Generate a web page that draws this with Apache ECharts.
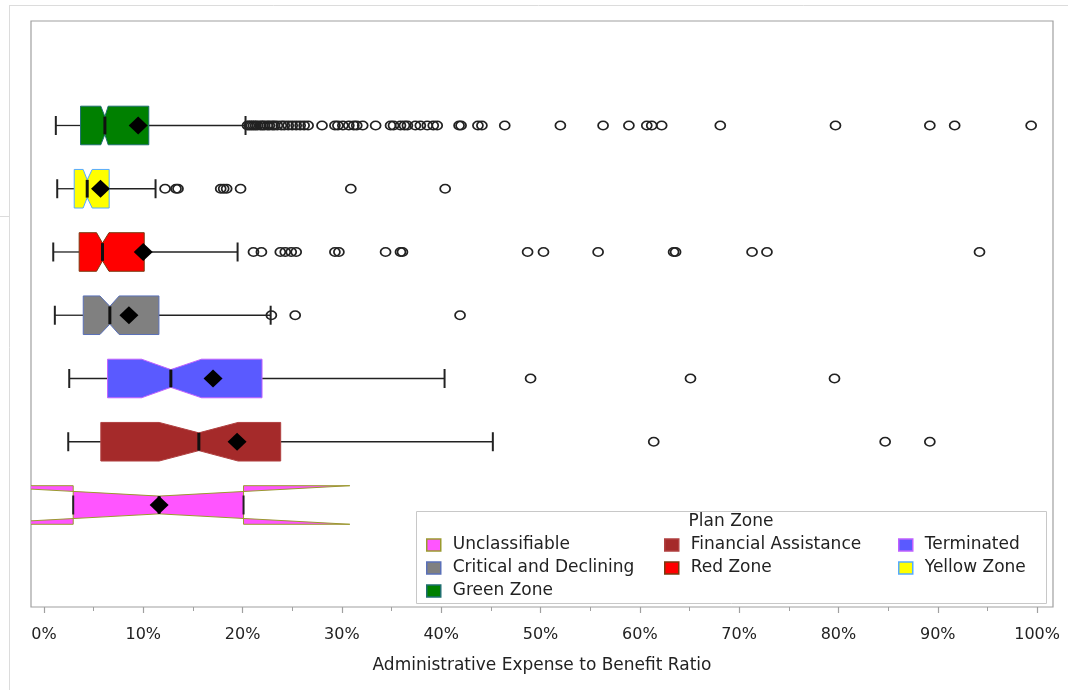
<!DOCTYPE html>
<html>
<head>
<meta charset="utf-8">
<script src="https://cdn.jsdelivr.net/npm/echarts@6/dist/echarts.min.js"></script>
<style>
html,body{margin:0;padding:0;background:#fff;}
#chart{width:1068px;height:690px;}
</style>
</head>
<body>
<div id="chart"></div>
<script>
// ---- data (percent values, category index 0 = bottom row) ----
const categories = ['Unclassifiable','Financial Assistance','Terminated','Critical and Declining','Red Zone','Yellow Zone','Green Zone'];
const whiskerLow  = [2.95, 2.45, 2.55, 1.10, 0.94, 1.34, 1.20];
const q1          = [2.95, 5.73, 6.41, 3.96, 3.55, 3.05, 3.69];
const notchLow    = [-7.6, 11.6, 9.83, 5.64, 5.30, 3.95, 5.73];
const median      = [11.6, 15.6, 12.78, 6.64, 5.90, 4.36, 6.14];
const notchHigh   = [30.8, 19.55, 15.87, 7.58, 6.55, 4.86, 6.47];
const q3          = [20.1, 23.84, 21.96, 11.58, 10.10, 6.57, 10.56];
const whiskerHigh = [20.1, 45.2, 40.34, 22.83, 19.5, 11.24, 20.3];
const means       = [11.6, 19.45, 17.03, 8.56, 10.0, 5.7, 9.49];

const outliersUnclassifiable = [];
const outliersFinancial = [61.4, 84.7, 89.2];
const outliersTerminated = [49.0, 65.1, 79.6];
const outliersCritical = [22.9, 25.3, 41.9];
const outliersRed = [21.1, 21.9, 23.8, 24.3, 24.9, 25.4, 29.3, 29.7, 34.4, 35.9, 36.1, 48.7, 50.3, 55.8, 63.4, 63.6, 71.3, 72.8, 94.2];
const outliersYellow = [12.2, 13.3, 13.5, 17.8, 18.1, 18.4, 19.8, 30.9, 40.4];
const outliersGreen = [20.5, 20.7, 20.9, 21.1, 21.3, 21.5, 21.8, 22.0, 22.2, 22.5, 22.7, 23.0, 23.2, 23.5, 23.9, 24.2, 24.6, 25.0, 25.4, 25.8, 26.2, 26.6,
  28.0, 29.3, 29.6, 30.1, 30.7, 31.2, 31.5, 32.1, 33.4, 34.9, 35.2, 35.9, 36.3, 36.6, 37.4, 37.9, 38.6, 39.2, 39.6, 41.8, 42.0, 43.7, 44.1, 46.4,
  52.0, 56.3, 58.9, 60.7, 61.2, 62.2, 68.1, 79.7, 89.2, 91.7, 99.4];
const outlierLists = [outliersUnclassifiable, outliersFinancial, outliersTerminated, outliersCritical, outliersRed, outliersYellow, outliersGreen];

const tickLabels = [0, 10, 20, 30, 40, 50, 60, 70, 80, 90, 100];
const minorTicks = [5, 15, 25, 35, 45, 55, 65, 75, 85, 95];

// ---- styles ----
const fills   = ['#ff55ff', '#a52a2a', '#5a5aff', '#808080', '#ff0000', '#ffff00', '#008000'];
const borders = ['#9a9a2e', '#b04040', '#c060ff', '#5a70b8', '#7a3a10', '#55aaff', '#1f6f6f'];
const FONT = 'DejaVu Sans';
const XMIN = -1.3, XMAX = 101.6;

function renderBox(params, api) {
  const idx = api.value(0);
  const v = [1,2,3,4,5,6,7].map(i => api.value(i));
  const [wl, b1, nlo, med, nhi, b3, wh] = v;
  const X = val => api.coord([val, idx])[0];
  const cy = api.coord([0, idx])[1];
  const unit = api.size([0, 1])[1];
  const hh = unit * 0.305;
  const ind = hh * 2 * 0.27;
  const cap = 9.5;
  const top = cy - hh, bot = cy + hh;
  const lineStyle = {stroke: '#222', lineWidth: 1.3};
  const pts = [
    [X(b1), top], [X(nlo), top], [X(med), top + ind], [X(nhi), top], [X(b3), top],
    [X(b3), bot], [X(nhi), bot], [X(med), bot - ind], [X(nlo), bot], [X(b1), bot]
  ];
  const si = params.seriesIndex;
  return {
    type: 'group',
    children: [
      {type: 'line', shape: {x1: X(wl), y1: cy, x2: X(b1), y2: cy}, style: lineStyle},
      {type: 'line', shape: {x1: X(b3), y1: cy, x2: X(wh), y2: cy}, style: lineStyle},
      {type: 'polygon', shape: {points: pts}, style: {fill: fills[si], stroke: borders[si], lineWidth: 1}},
      {type: 'line', shape: {x1: X(wl), y1: cy - cap, x2: X(wl), y2: cy + cap}, style: {stroke: '#222', lineWidth: 2}},
      {type: 'line', shape: {x1: X(wh), y1: cy - cap, x2: X(wh), y2: cy + cap}, style: {stroke: '#222', lineWidth: 2}},
      {type: 'line', shape: {x1: X(med), y1: top + ind, x2: X(med), y2: bot - ind}, style: {stroke: '#111', lineWidth: 3}}
    ]
  };
}

const boxSeries = categories.map((name, i) => ({
  name: name,
  type: 'custom',
  renderItem: renderBox,
  clip: true,
  silent: true,
  itemStyle: {color: fills[i], borderColor: borders[i]},
  encode: {x: [1,2,3,4,5,6,7], y: 0},
  data: [[i, whiskerLow[i], q1[i], notchLow[i], median[i], notchHigh[i], q3[i], whiskerHigh[i]]],
  z: 2
}));

const outlierData = [];
outlierLists.forEach((list, i) => list.forEach(x => outlierData.push([x, i])));
const meanData = means.map((m, i) => [m, i]);

function legendItem(i) {
  return {name: categories[i], icon: 'rect',
    itemStyle: {color: fills[i], borderColor: borders[i], borderWidth: 1.5}};
}
const legendCommon = {
  orient: 'vertical', padding: 0, itemGap: 5, itemWidth: 14, itemHeight: 12,
  selectedMode: false,
  textStyle: {fontFamily: FONT, fontSize: 17, color: '#222', lineHeight: 18, padding: [0, 0, 0, 7]}
};

const option = {
  animation: false,
  backgroundColor: '#fff',
  grid: {left: 31, right: 15, top: 21, bottom: 83, show: true, borderColor: '#a0a0a0', borderWidth: 1.2},
  xAxis: [
    {
      type: 'value', min: XMIN, max: XMAX, position: 'bottom',
      axisLine: {show: false, onZero: false}, splitLine: {show: false},
      axisTick: {show: true, inside: false, length: 6, customValues: tickLabels, lineStyle: {color: '#a0a0a0', width: 1.2}},
      axisLabel: {customValues: tickLabels, formatter: v => v + '%', margin: 20, fontFamily: FONT, fontSize: 16, color: '#222'},
      name: 'Administrative Expense to Benefit Ratio', nameLocation: 'middle', nameGap: 50,
      nameTextStyle: {fontFamily: FONT, fontSize: 17, color: '#222'}
    },
    {
      type: 'value', min: XMIN, max: XMAX, position: 'bottom',
      axisLine: {show: false, onZero: false}, splitLine: {show: false},
      axisTick: {show: true, inside: false, length: 4, customValues: minorTicks, lineStyle: {color: '#a0a0a0', width: 1}},
      axisLabel: {show: false}
    }
  ],
  yAxis: {type: 'value', min: -1.613, max: 7.652, show: false},
  legend: [
    Object.assign({left: 426, top: 536, data: [legendItem(0), legendItem(3), legendItem(6)]}, legendCommon),
    Object.assign({left: 664, top: 536, data: [legendItem(1), legendItem(4)]}, legendCommon),
    Object.assign({left: 898, top: 536, data: [legendItem(2), legendItem(5)]}, legendCommon)
  ],
  graphic: [
    {type: 'line', shape: {x1: 9, y1: 5.5, x2: 1068, y2: 5.5}, style: {stroke: '#dcdcdc', lineWidth: 1}, silent: true},
    {type: 'line', shape: {x1: 9.5, y1: 5, x2: 9.5, y2: 690}, style: {stroke: '#dcdcdc', lineWidth: 1}, silent: true},
    {type: 'line', shape: {x1: 0, y1: 216.5, x2: 9, y2: 216.5}, style: {stroke: '#dcdcdc', lineWidth: 1}, silent: true},
    {type: 'rect', shape: {x: 416.5, y: 511.5, width: 630, height: 92}, style: {fill: '#fff', stroke: '#c8c8c8', lineWidth: 1}, z: 3, silent: true},
    {type: 'text', x: 731, y: 522, z: 4, silent: true,
      style: {text: 'Plan Zone', fontFamily: FONT, fontSize: 17, fill: '#222', textAlign: 'center', textVerticalAlign: 'middle'}}
  ],
  series: boxSeries.concat([
    {
      name: 'Outliers', type: 'scatter', silent: true, z: 5,
      symbol: 'circle', symbolSize: [10, 8.5],
      itemStyle: {color: 'rgba(0,0,0,0)', borderColor: '#222', borderWidth: 1.6, opacity: 1},
      data: outlierData
    },
    {
      name: 'Mean', type: 'scatter', silent: true, z: 6,
      symbol: 'diamond', symbolSize: [19, 18],
      itemStyle: {color: '#000', opacity: 1},
      data: meanData
    }
  ])
};

const chart = echarts.init(document.getElementById('chart'), null, {renderer: 'canvas'});
chart.setOption(option);
</script>
</body>
</html>
